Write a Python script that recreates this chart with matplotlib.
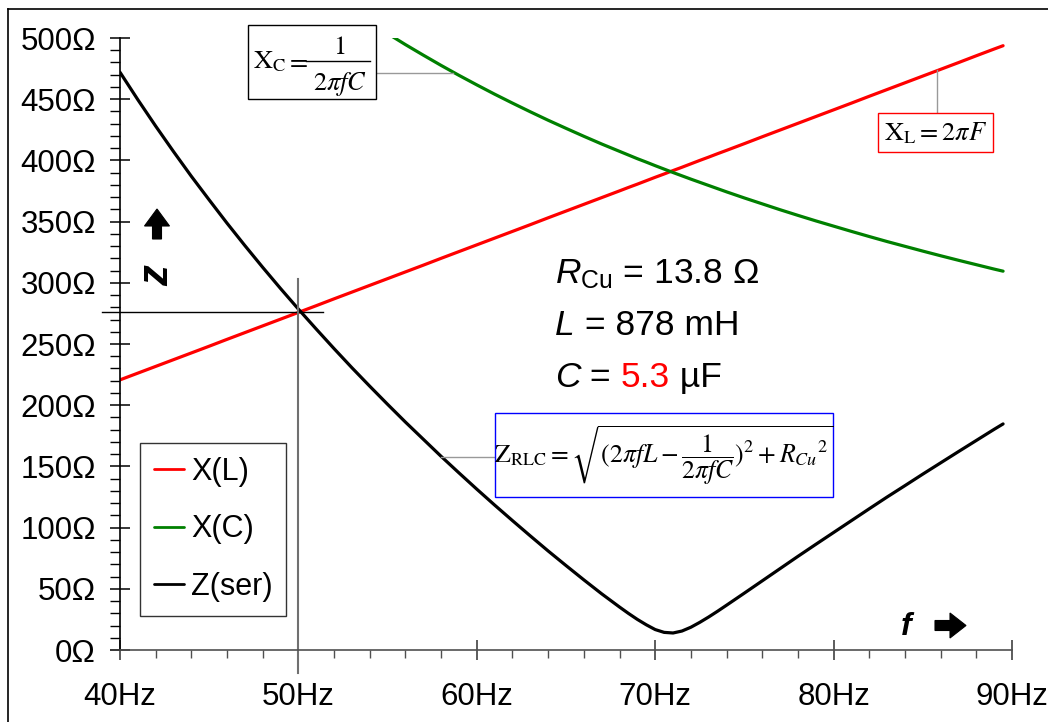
import matplotlib
matplotlib.use('Agg')
import matplotlib.pyplot as plt
from matplotlib.lines import Line2D
from matplotlib.patches import Rectangle, Polygon
from matplotlib.ticker import MultipleLocator, FuncFormatter

# ---- data ----
freq = [40, 41, 42, 43, 44, 45, 46, 47, 48, 49,
        50, 51, 52, 53, 54, 55, 56, 57, 58, 59,
        60, 61, 62, 63, 64, 65, 66, 67, 68, 68.5, 69, 69.5,
        70, 70.5, 71, 71.5, 72, 72.5, 73, 73.5, 74, 75, 76, 77, 78, 79,
        80, 81, 82, 83, 84, 85, 86, 87, 88, 89, 89.5]
x_l = [220.7, 226.2, 231.7, 237.2, 242.7, 248.2, 253.8, 259.3, 264.8, 270.3,
       275.8, 281.3, 286.9, 292.4, 297.9, 303.4, 308.9, 314.4, 320.0, 325.5,
       331.0, 336.5, 342.0, 347.5, 353.1, 358.6, 364.1, 369.6, 375.1, 377.9, 380.6, 383.4,
       386.2, 388.9, 391.7, 394.4, 397.2, 400.0, 402.7, 405.5, 408.2, 413.7, 419.3, 424.8, 430.3, 435.8,
       441.3, 446.8, 452.4, 457.9, 463.4, 468.9, 474.4, 479.9, 485.5, 491.0, 493.7]
x_c = [692.5, 675.6, 659.5, 644.2, 629.5, 615.6, 602.2, 589.4, 577.1, 565.3,
       554.0, 543.1, 532.7, 522.6, 513.0, 503.6, 494.6, 486.0, 477.6, 469.5,
       461.7, 454.1, 446.8, 439.7, 432.8, 426.2, 419.7, 413.4, 407.4, 404.4, 401.4, 398.6,
       395.7, 392.9, 390.1, 387.4, 384.7, 382.1, 379.5, 376.9, 374.3, 369.3, 364.5, 359.7, 355.1, 350.6,
       346.3, 342.0, 337.8, 333.7, 329.8, 325.9, 322.1, 318.4, 314.8, 311.2, 309.5]
z_ser = [472.0, 449.6, 428.0, 407.2, 387.0, 367.7, 348.7, 330.4, 312.6, 295.3,
         278.5, 262.2, 246.2, 230.6, 215.5, 200.7, 186.2, 172.2, 158.2, 144.7,
         131.4, 118.4, 105.7, 93.2, 80.9, 69.0, 57.3, 45.9, 35.1, 29.9, 25.0, 20.6,
         16.7, 14.4, 13.9, 15.5, 18.6, 22.6, 27.0, 31.7, 36.6, 46.5, 56.5, 66.5, 76.5, 86.3,
         96.0, 105.7, 115.4, 125.0, 134.3, 143.7, 152.9, 162.1, 171.2, 180.3, 184.7]
series_labels = ['X(L)', 'X(C)', 'Z(ser)']
series_colors = ['#ff0000', '#008000', '#000000']

plt.rcParams['font.family'] = ['Liberation Sans', 'DejaVu Sans']
plt.rcParams['mathtext.fontset'] = 'custom'
plt.rcParams['mathtext.rm'] = 'Liberation Sans'
plt.rcParams['mathtext.it'] = 'Liberation Sans:italic'
plt.rcParams['mathtext.bf'] = 'Liberation Sans:bold'

fig = plt.figure(figsize=(10.48, 7.22), dpi=100)
AX_L, AX_B, AX_W, AX_H = 120, 650, 892, 612   # pixel geometry of the plot area
ax = fig.add_axes([AX_L/1048, (722-AX_B)/722, AX_W/1048, AX_H/722])


def pa(px, py):
    """pixel position in the figure -> axes fraction"""
    return ((px - AX_L) / AX_W, (AX_B - py) / AX_H)


for ys, lab, col in zip([x_l, x_c, z_ser], series_labels, series_colors):
    ax.plot(freq, ys, color=col, lw=2.3, label=lab, solid_capstyle='round')

ax.set_xlim(40, 90)
ax.set_ylim(0, 500)
ax.spines['top'].set_visible(False)
ax.spines['right'].set_visible(False)
ax.spines['left'].set_color('black')
ax.spines['left'].set_linewidth(1.2)
ax.spines['bottom'].set_color('#505050')
ax.spines['bottom'].set_linewidth(1.2)

ax.yaxis.set_major_locator(MultipleLocator(50))
ax.yaxis.set_minor_locator(MultipleLocator(10))
ax.xaxis.set_major_locator(MultipleLocator(10))
ax.xaxis.set_minor_locator(MultipleLocator(2))
ax.yaxis.set_major_formatter(FuncFormatter(lambda v, p: f"{v:.0f}Ω"))
ax.xaxis.set_major_formatter(FuncFormatter(lambda v, p: f"{v:.0f}Hz"))
ax.tick_params(axis='y', which='major', direction='inout', length=14.4, width=1.1,
               color='black', labelsize=22.5, pad=10)
ax.tick_params(axis='y', which='minor', direction='out', length=7.2, width=1.0, color='black')
ax.tick_params(axis='x', which='major', direction='inout', length=14.4, width=1.1,
               color='#303030', labelsize=22.5, pad=16)
ax.tick_params(axis='x', which='minor', direction='out', length=5.5, width=1.0, color='#505050')

leg = ax.legend(loc='upper left', bbox_to_anchor=pa(140, 443), frameon=True,
                fancybox=False, edgecolor='black', fontsize=22, handlelength=1.0,
                handletextpad=0.22, labelspacing=0.9, borderpad=0.45, borderaxespad=0)
leg.get_frame().set_linewidth(1.0)
for h in leg.get_lines():
    h.set_linewidth(2.0)

# crosshair at 50 Hz
ax.plot([38.99, 51.38], [276.1, 276.1], color='black', lw=1.0, clip_on=False)
ax.plot([50.0, 50.0], [-18.8, 303.1], color='#707070', lw=1.5, clip_on=False)

# leader lines
ax.plot([53.59, 58.67], [471.4, 471.4], color='#999999', lw=1.0, clip_on=False)
ax.plot([85.8, 85.8], [473.9, 438.7], color='#999999', lw=1.0, clip_on=False)
ax.plot([57.99, 61.02], [157.7, 157.7], color='#999999', lw=1.0, clip_on=False)


def box(x0, y0, x1, y1, ec):
    (ax0, ay1), (ax1, ay0) = pa(x0, y0), pa(x1, y1)
    ax.add_patch(Rectangle((ax0, ay0), ax1 - ax0, ay1 - ay0, transform=ax.transAxes,
                           fc='white', ec=ec, lw=1.0, clip_on=False, zorder=5))


# X_C formula (built by hand so the fraction is tall like the reference)
box(248, 25, 376, 99, 'black')
mt = dict(math_fontfamily='stix', fontsize=19, zorder=6, transform=ax.transAxes)
ax.text(*pa(253, 68), r"$\mathrm{X}_{\mathrm{C}}$", ha='left', va='baseline', **mt)
ax.text(*pa(297, 68), r"$=$", ha='center', va='baseline', **mt)
ax.text(*pa(339, 54), r"$1$", ha='center', va='baseline', **mt)
ax.text(*pa(340, 90), r"$2\pi fC$", ha='center', va='baseline', **mt)
ax.add_artist(Line2D([pa(306, 61)[0], pa(370, 61)[0]], [pa(306, 61)[1]] * 2,
                     transform=ax.transAxes, color='black', lw=1.0, clip_on=False, zorder=6))

# X_L formula
box(878, 113, 993, 152, '#ff0000')
ax.text(*pa(935.5, 133), r"$\mathrm{X}_{\mathrm{L}} = 2\pi F$", ha='center', va='center', **mt)

# Z formula
box(495, 413, 833, 497, '#0000ff')
ax.text(*pa(664, 455),
        r"$\mathrm{Z}_{\mathrm{RLC}} = \sqrt{(2\pi fL - \dfrac{1}{2\pi fC})^2 + {R_{Cu}}^{2}}$",
        ha='center', va='center', math_fontfamily='stix', fontsize=18.5, zorder=6,
        transform=ax.transAxes)

# parameter texts
fs = 25.5
ax.text(64.38, 299.8, r"$R_{\mathrm{Cu}}$ = 13.8 Ω", fontsize=fs, ha='left', va='baseline')
t_l = ax.text(64.38, 257.4, "L", fontsize=fs, style='italic', ha='left', va='baseline')
ax.annotate(" = 878 mH", xy=(1, 0), xycoords=t_l, fontsize=fs, ha='left', va='bottom')
t_c = ax.text(64.38, 214.9, "C", fontsize=fs, style='italic', ha='left', va='baseline')
t_eq = ax.annotate(" = ", xy=(1, 0), xycoords=t_c, fontsize=fs, ha='left', va='bottom')
t_val = ax.annotate("5.3", xy=(1, 0), xycoords=t_eq, fontsize=fs, ha='left', va='bottom',
                    color='#ff0000')
ax.annotate(" µF", xy=(1, 0), xycoords=t_val, fontsize=fs, ha='left', va='bottom')

# axis direction hints: heavy arrows and bold italic letters
up_arrow = [(157, 209), (169.5, 226), (161.5, 226), (161.5, 239), (152.5, 239),
            (152.5, 226), (144.5, 226)]
right_arrow = [(966, 625.5), (950, 613), (950, 620.5), (935, 620.5), (935, 630.5),
               (950, 630.5), (950, 638)]
for shape in (up_arrow, right_arrow):
    ax.add_patch(Polygon([pa(*p) for p in shape], closed=True, transform=ax.transAxes,
                         fc='black', ec='black', lw=0.8, clip_on=False, zorder=6))
ax.text(*pa(157, 276), "z", fontsize=30, rotation=90, style='italic', fontweight='bold',
        ha='center', va='center', transform=ax.transAxes)
ax.text(*pa(906, 627), "f", fontsize=23, style='italic', fontweight='bold',
        ha='center', va='center', transform=ax.transAxes)

# outer frame
fig.add_artist(Line2D([8/1048, 8/1048], [0, 1 - 9/722], color='black', lw=1.2))
fig.add_artist(Line2D([8/1048, 1], [1 - 9/722, 1 - 9/722], color='black', lw=1.2))

fig.savefig('out.png', dpi=100)
